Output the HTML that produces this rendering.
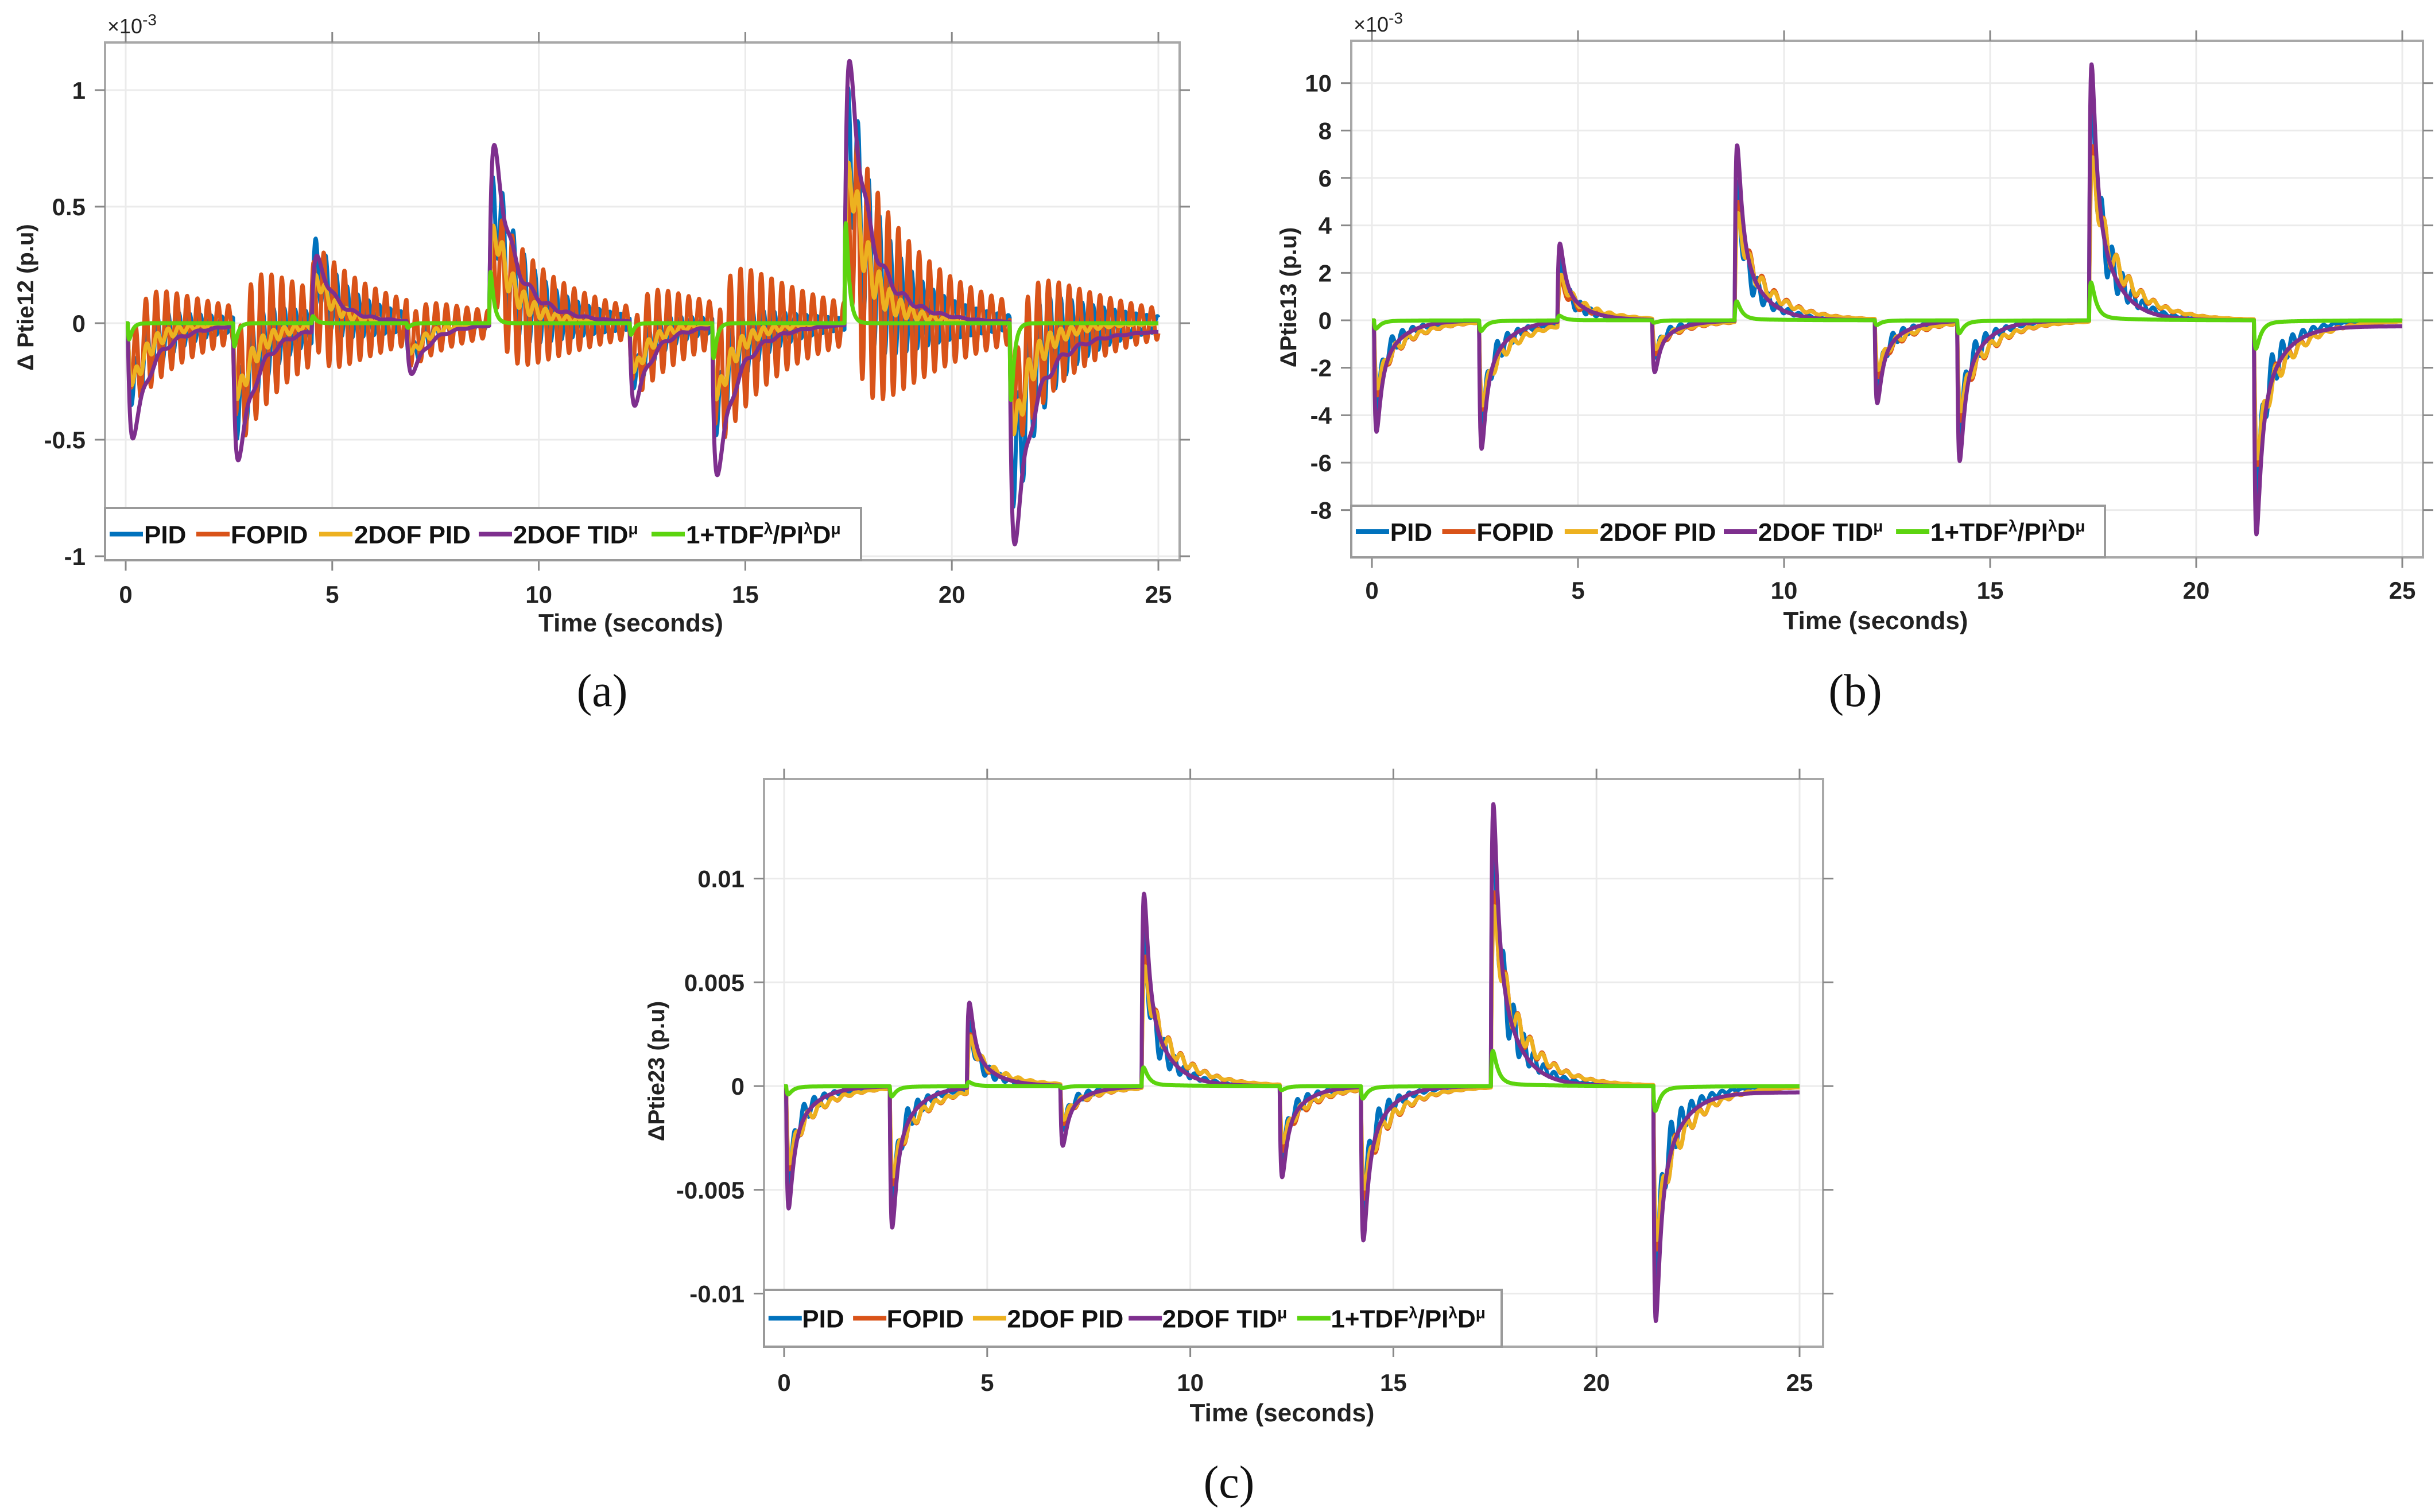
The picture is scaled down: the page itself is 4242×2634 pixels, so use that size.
<!DOCTYPE html>
<html><head><meta charset="utf-8"><style>
html,body{margin:0;padding:0;background:#fff;}
svg{display:block;font-family:"Liberation Sans",sans-serif;}
</style></head><body>
<svg id="fig" width="4242" height="2634" viewBox="0 0 4242 2634" xmlns="http://www.w3.org/2000/svg"></svg>
<script>
// ---- shared data ----
const seriesNames = ["PID","FOPID","2DOF PID","2DOF TID","1+TDF/PID"];
const seriesColors = ["#0072BD","#D95319","#EDB120","#7E2F8E","#5CD40F"];
const eventTimes = [0.05, 2.6, 4.5, 6.8, 8.8, 12.2, 14.2, 17.4, 21.4];

// Panel (a) peak values (x1e-3) per series per event
const aPID    = [-0.30,-0.40,0.28,-0.15,0.55,-0.25,-0.40,0.85,-0.65];
const aFOPID  = [-0.20,-0.28,0.12,-0.08,0.30,-0.15,-0.25,0.50,-0.35];
const a2DOF   = [-0.25,-0.30,0.20,-0.13,0.40,-0.20,-0.30,0.65,-0.45];
const aTID    = [-0.48,-0.56,0.31,-0.22,0.75,-0.35,-0.62,1.10,-0.92];
const aTDF    = [-0.07,-0.10,0.03,-0.02,0.22,-0.05,-0.15,0.43,-0.33];
const aTicksY = [-1,-0.5,0,0.5,1];
const aTickLabelsY = ["-1","-0.5","0","0.5","1"];

// Panel (b) peak values (x1e-3)
const bPID    = [-3.5,-4.5,2.5,-1.5,5.5,-2.8,-4.5,9.5,-7.5];
const bFOPID  = [-3.0,-3.5,1.8,-1.4,4.8,-2.3,-3.9,7.0,-5.8];
const b2DOF   = [-2.7,-3.3,2.0,-1.2,4.3,-2.0,-3.5,6.5,-5.5];
const bTID    = [-4.7,-5.4,3.3,-2.2,7.4,-3.5,-5.9,10.8,-9.0];
const bTDF    = [-0.35,-0.45,0.2,-0.1,0.8,-0.2,-0.55,1.6,-1.2];
const bTicksY = [-8,-6,-4,-2,0,2,4,6,8,10];
const bTickLabelsY = ["-8","-6","-4","-2","0","2","4","6","8","10"];

// Panel (c) peak values
const cPID    = [-0.0045,-0.0055,0.0030,-0.0020,0.0070,-0.0033,-0.0055,0.0120,-0.0090];
const cFOPID  = [-0.0038,-0.0044,0.0026,-0.0018,0.0060,-0.0030,-0.0050,0.0089,-0.0075];
const c2DOF   = [-0.0035,-0.0040,0.0025,-0.0016,0.0055,-0.0026,-0.0045,0.0082,-0.0070];
const cTID    = [-0.0059,-0.0068,0.0041,-0.0029,0.0093,-0.0044,-0.0074,0.0136,-0.0113];
const cTDF    = [-0.0004,-0.0005,0.0002,-0.0001,0.0009,-0.0002,-0.0006,0.0017,-0.0012];
const cTicksY = [-0.01,-0.005,0,0.005,0.01];
const cTickLabelsY = ["-0.01","-0.005","0","0.005","0.01"];

const finalOffsetTID = [-0.03, -0.25, -0.0003];
const ticksX = [0,5,10,15,20,25];

const NS="http://www.w3.org/2000/svg";
const svg=document.getElementById('fig');
function el(tag,attrs,parent){const e=document.createElementNS(NS,tag);for(const k in attrs)e.setAttribute(k,attrs[k]);(parent||svg).appendChild(e);return e;}

// response model parameters (shape only)
const paramsA=[
 {rise:.05,tail:.25,w2:.3,tail2:.8,osc:.4,T:.26,otau:1.4},
 {rise:.05,tail:.25,w2:.3,tail2:.9,osc:.9,T:.25,otau:2.0},
 {rise:.06,tail:.3,w2:.3,tail2:.8,osc:.2,T:.26,otau:.8},
 {rise:.06,tail:.3,w2:.3,tail2:.9,osc:.05,T:.45,otau:.8},
 {rise:.02,tail:.08,w2:0,tail2:1,osc:0,T:1,otau:1}];
const paramsB=[
 {rise:.04,tail:.1,w2:.3,tail2:.6,osc:.15,T:.25,otau:.5},
 {rise:.05,tail:.12,w2:.4,tail2:.8,osc:.1,T:.3,otau:.7},
 {rise:.05,tail:.12,w2:.45,tail2:.8,osc:.12,T:.3,otau:.6},
 {rise:.04,tail:.1,w2:.3,tail2:.5,osc:0,T:.4,otau:.5},
 {rise:.03,tail:.12,w2:.05,tail2:1.0,osc:0,T:1,otau:1}];

function mainPart(s,p){const r=1-Math.exp(-s/p.rise);return r*((1-p.w2)*Math.exp(-s/p.tail)+p.w2*Math.exp(-s/p.tail2));}
function normOf(p){let m=0;for(let s=0;s<3;s+=0.002)m=Math.max(m,mainPart(s,p));return m;}
function resp(t,peaks,p,norm,offset){
  let v=0;
  for(let i=0;i<eventTimes.length;i++){
    const s=t-eventTimes[i]; if(s<0)continue;
    const ro=1-Math.exp(-s/0.2);
    v+=peaks[i]*(mainPart(s,p)+p.osc*ro*Math.sin(2*Math.PI*s/p.T)*Math.exp(-s/p.otau))/norm;
  }
  if(offset){const s=t-eventTimes[eventTimes.length-1];if(s>0)v+=offset*(1-Math.exp(-s/0.5));}
  return v;
}

function panel(cfg){
  const g=el('g',{});
  
  
  const X=v=>cfg.x0+(v-0)*(cfg.x25-cfg.x0)/25;
  const Y=v=>cfg.yZero-(v)*cfg.yScale;
  ticksX.forEach(t=>{const l=el('line',{x1:X(t),x2:X(t),y1:cfg.top,y2:cfg.bottom,stroke:'#ebebeb','stroke-width':3},g);});
  cfg.ticksY.forEach(t=>{const l=el('line',{x1:cfg.left,x2:cfg.right,y1:Y(t),y2:Y(t),stroke:'#ebebeb','stroke-width':3},g);});
  const clipId='clip'+cfg.key;
  const cp=el('clipPath',{id:clipId},g);el('rect',{x:cfg.left,y:cfg.top,width:cfg.right-cfg.left,height:cfg.bottom-cfg.top},cp);
  const sg=el('g',{'clip-path':'url(#'+clipId+')'},g);
  cfg.series.forEach((peaks,si)=>{
    const p=cfg.params[si];const n=normOf(p);
    const off=si===3?cfg.offset:0;
    let d='';
    for(let k=0;k<=2500;k++){const t=k*0.01;const v=resp(t,peaks,p,n,off);d+=(k?'L':'M')+X(t).toFixed(1)+' '+Y(v).toFixed(1);}
    const path=el('path',{d:d,fill:'none',stroke:seriesColors[si],'stroke-width':7,'stroke-linejoin':'round'},sg);
    
    
  });
  const box=el('rect',{x:cfg.left,y:cfg.top,width:cfg.right-cfg.left,height:cfg.bottom-cfg.top,fill:'none',stroke:'#a8a8a8','stroke-width':4},g);
  
  ticksX.forEach(t=>{
    el('line',{x1:X(t),x2:X(t),y1:cfg.bottom,y2:cfg.bottom+18,stroke:'#888','stroke-width':3},g);
    el('line',{x1:X(t),x2:X(t),y1:cfg.top,y2:cfg.top-18,stroke:'#888','stroke-width':3},g);
    const tx=el('text',{x:X(t),y:cfg.tickY,'font-size':42,'font-weight':'bold','text-anchor':'middle',fill:'#222'},g);tx.textContent=t;
    
  });
  cfg.ticksY.forEach((t,i)=>{
    el('line',{x1:cfg.left,x2:cfg.left-18,y1:Y(t),y2:Y(t),stroke:'#888','stroke-width':3},g);
    el('line',{x1:cfg.right,x2:cfg.right+18,y1:Y(t),y2:Y(t),stroke:'#888','stroke-width':3},g);
    const tx=el('text',{x:cfg.left-34,y:Y(t)+15,'font-size':42,'font-weight':'bold','text-anchor':'end',fill:'#222'},g);tx.textContent=cfg.tickLabels[i];
    
  });
  if(cfg.exp){const e=el('text',{x:cfg.left+4,y:cfg.top-16,'font-size':36,fill:'#222'},g);e.innerHTML='×10<tspan dy="-14" font-size="28">-3</tspan>';}
  const xl=el('text',{x:(cfg.left+cfg.right)/2-20,y:cfg.xlabY,'font-size':44,'font-weight':'bold','text-anchor':'middle',fill:'#222'},g);xl.textContent='Time (seconds)';
  
  const yl=el('text',{x:0,y:0,'font-size':40,'font-weight':'bold','text-anchor':'middle',fill:'#222',transform:'translate('+(cfg.ylabX+14)+','+cfg.ylabY+') rotate(-90)'},g);yl.textContent=cfg.ylabel;
  
  const lg=el('g',{},g);
  el('rect',{x:cfg.left,y:cfg.legTop,width:cfg.legW,height:cfg.bottom-cfg.legTop,fill:'#fff',stroke:'#9a9a9a','stroke-width':4},lg);
  const f=cfg.legW/1317;
  const lineOff=[8,159,373,651,952],textOff=[72,223,438,715,1016];
  const labels=['PID','FOPID','2DOF PID','2DOF TID<tspan dy="-16" font-size="28">μ</tspan>','1+TDF<tspan dy="-16" font-size="28">λ</tspan><tspan dy="16">/PI</tspan><tspan dy="-16" font-size="28">λ</tspan><tspan dy="16">D</tspan><tspan dy="-16" font-size="28">μ</tspan>'];
  const ly=(cfg.legTop+cfg.bottom)/2+8;
  for(let i=0;i<5;i++){
    const en=el('g',{},lg);
    el('line',{x1:cfg.left+lineOff[i]*f,x2:cfg.left+lineOff[i]*f+58,y1:ly-8,y2:ly-8,stroke:seriesColors[i],'stroke-width':8},en);
    const tx=el('text',{x:cfg.left+textOff[i]*f-4,y:ly+8,'font-size':44,'font-weight':'bold',fill:'#111'},en);tx.innerHTML=labels[i];
  }
  const cap=el('text',{x:cfg.capX,y:cfg.capY,'font-size':80,'font-family':'"Liberation Serif",serif','text-anchor':'middle',fill:'#111'},g);cap.textContent=cfg.caption;
  
}

panel({key:'a',name:'panel-a',left:183,right:2055,top:74,bottom:976,x0:219,x25:2018,yZero:563,yScale:406,
  ticksY:aTicksY,tickLabels:aTickLabelsY,series:[aPID,aFOPID,a2DOF,aTID,aTDF],params:paramsA,offset:finalOffsetTID[0],
  exp:true,tickY:1050,xlabY:1100,ylabX:44,ylabY:518,ylabel:'Δ Ptie12 (p.u)',legTop:885,legW:1317,capX:1049,capY:1230,caption:'(a)'});
panel({key:'b',name:'panel-b',left:2354,right:4221,top:71,bottom:971,x0:2390,x25:4185,yZero:558,yScale:41.33,
  ticksY:bTicksY,tickLabels:bTickLabelsY,series:[bPID,bFOPID,b2DOF,bTID,bTDF],params:paramsB,offset:finalOffsetTID[1],
  exp:true,tickY:1043,xlabY:1096,ylabX:2244,ylabY:518,ylabel:'ΔPtie13 (p.u)',legTop:881,legW:1313,capX:3232,capY:1230,caption:'(b)'});
panel({key:'c',name:'panel-c',left:1331,right:3176,top:1357,bottom:2346,x0:1366,x25:3135,yZero:1892,yScale:36150,
  ticksY:cTicksY,tickLabels:cTickLabelsY,series:[cPID,cFOPID,c2DOF,cTID,cTDF],params:paramsB,offset:finalOffsetTID[2],
  exp:false,tickY:2423,xlabY:2476,ylabX:1143,ylabY:1866,ylabel:'ΔPtie23 (p.u)',legTop:2247,legW:1285,capX:2141,capY:2609,caption:'(c)'});
</script>
</body></html>
